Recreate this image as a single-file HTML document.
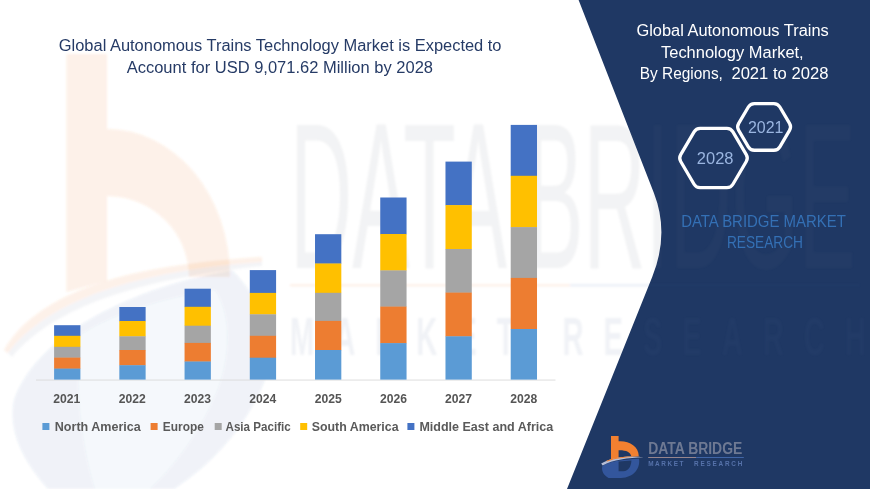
<!DOCTYPE html>
<html><head><meta charset="utf-8">
<style>
html,body{margin:0;padding:0;background:#fff;}
body{width:870px;height:489px;overflow:hidden;font-family:"Liberation Sans",sans-serif;}
svg{display:block;}
text{font-family:"Liberation Sans",sans-serif;}
</style></head><body>
<svg width="870" height="489" viewBox="0 0 870 489">
<rect width="870" height="489" fill="#ffffff"/>

<!-- watermark logo -->
<g id="wm" filter="url(#blur1)">
  <path d="M66.5,54 H107 V129 A123,148 0 0 1 230,277 L189,277 A82,81 0 0 0 107,196 V281 L66.5,292 Z" fill="#ed7d31" opacity="0.11"/>
  <path d="M4,350 C40,290 130,265 262,257 L262,262 C140,271 50,298 8,353 Z" fill="#ed7d31" opacity="0.11"/>
  <path d="M8,353 C50,298 140,271 262,262 L262,266 C140,279 55,306 12,357 Z" fill="#8793ad" opacity="0.10"/>
  <path d="M14,400 C35,340 120,290 232,270 C262,300 275,340 265,380 C245,430 210,465 174,489 L48,489 C22,460 8,430 14,400 Z" fill="#3b61a6" opacity="0.04"/>
  <path d="M14,400 C35,340 120,290 232,270 C262,300 275,340 265,380 C245,430 210,465 174,489 L48,489 C22,460 8,430 14,400 Z M80,335 C120,310 170,297 215,290 C235,320 228,370 213,400 C195,440 170,470 150,489 L95,489 C80,440 75,380 80,335 Z" fill="#3b61a6" fill-rule="evenodd" opacity="0.045"/>
</g>

<!-- navy panel -->
<path id="panel" d="M578.6,0 L653.9,193 Q669.7,233.6 652.2,277 L567,489 L870,489 L870,0 Z" fill="#1f3864"/>

<!-- watermark text (over panel too) -->
<defs>
  <filter id="blur1" filterUnits="userSpaceOnUse" x="-20" y="-20" width="910" height="529"><feGaussianBlur stdDeviation="1.2"/></filter>
  <clipPath id="cpPanel"><path d="M578.6,0 L653.9,193 Q669.7,233.6 652.2,277 L567,489 L870,489 L870,0 Z"/></clipPath>
  <clipPath id="cpWhite"><path d="M0,0 L578.6,0 L653.9,193 Q669.7,233.6 652.2,277 L567,489 L0,489 Z"/></clipPath>
  <g id="wmtext">
    <text x="290" y="268" font-size="207" fill="#7f8796" textLength="566" lengthAdjust="spacingAndGlyphs">DATA BRIDGE</text>
    <rect x="290" y="284" width="280" height="2.5" fill="#ed7d31"/>
    <rect x="570" y="284" width="290" height="2.5" fill="#4a72b8"/>
    <text transform="translate(290,355) scale(0.55,1)" x="0" y="0" font-size="53" font-weight="bold" fill="#6a7fa8" textLength="1047" lengthAdjust="spacing">MARKET RESEARCH</text>
  </g>
</defs>
<g clip-path="url(#cpWhite)" opacity="0.10"><use href="#wmtext" filter="url(#blur1)"/></g>
<g clip-path="url(#cpPanel)" opacity="0.05"><use href="#wmtext" filter="url(#blur1)"/></g>

<!-- axis -->
<rect x="36" y="379.6" width="519.5" height="0.9" fill="#d9d9d9"/>

<!-- bars -->
<g id="bars">
<rect x="54.10" y="325.2" width="26.3" height="10.9" fill="#4472c4"/>
<rect x="54.10" y="335.8" width="26.3" height="11.3" fill="#ffc000"/>
<rect x="54.10" y="346.8" width="26.3" height="11.1" fill="#a5a5a5"/>
<rect x="54.10" y="357.6" width="26.3" height="11.3" fill="#ed7d31"/>
<rect x="54.10" y="368.6" width="26.3" height="11.0" fill="#5b9bd5"/>
<rect x="119.33" y="307.0" width="26.3" height="14.3" fill="#4472c4"/>
<rect x="119.33" y="321.0" width="26.3" height="15.6" fill="#ffc000"/>
<rect x="119.33" y="336.3" width="26.3" height="14.0" fill="#a5a5a5"/>
<rect x="119.33" y="350.0" width="26.3" height="15.5" fill="#ed7d31"/>
<rect x="119.33" y="365.2" width="26.3" height="14.4" fill="#5b9bd5"/>
<rect x="184.56" y="288.7" width="26.3" height="18.4" fill="#4472c4"/>
<rect x="184.56" y="306.8" width="26.3" height="19.2" fill="#ffc000"/>
<rect x="184.56" y="325.7" width="26.3" height="17.5" fill="#a5a5a5"/>
<rect x="184.56" y="342.9" width="26.3" height="18.9" fill="#ed7d31"/>
<rect x="184.56" y="361.5" width="26.3" height="18.1" fill="#5b9bd5"/>
<rect x="249.79" y="270.1" width="26.3" height="23.1" fill="#4472c4"/>
<rect x="249.79" y="292.9" width="26.3" height="21.7" fill="#ffc000"/>
<rect x="249.79" y="314.3" width="26.3" height="21.8" fill="#a5a5a5"/>
<rect x="249.79" y="335.8" width="26.3" height="22.2" fill="#ed7d31"/>
<rect x="249.79" y="357.7" width="26.3" height="21.9" fill="#5b9bd5"/>
<rect x="315.02" y="234.2" width="26.3" height="29.6" fill="#4472c4"/>
<rect x="315.02" y="263.5" width="26.3" height="29.6" fill="#ffc000"/>
<rect x="315.02" y="292.8" width="26.3" height="28.4" fill="#a5a5a5"/>
<rect x="315.02" y="320.9" width="26.3" height="29.4" fill="#ed7d31"/>
<rect x="315.02" y="350.0" width="26.3" height="29.6" fill="#5b9bd5"/>
<rect x="380.25" y="197.5" width="26.3" height="36.8" fill="#4472c4"/>
<rect x="380.25" y="234.0" width="26.3" height="36.7" fill="#ffc000"/>
<rect x="380.25" y="270.4" width="26.3" height="36.5" fill="#a5a5a5"/>
<rect x="380.25" y="306.6" width="26.3" height="36.8" fill="#ed7d31"/>
<rect x="380.25" y="343.1" width="26.3" height="36.5" fill="#5b9bd5"/>
<rect x="445.48" y="161.6" width="26.3" height="43.8" fill="#4472c4"/>
<rect x="445.48" y="205.1" width="26.3" height="44.2" fill="#ffc000"/>
<rect x="445.48" y="249.0" width="26.3" height="43.9" fill="#a5a5a5"/>
<rect x="445.48" y="292.6" width="26.3" height="44.0" fill="#ed7d31"/>
<rect x="445.48" y="336.3" width="26.3" height="43.3" fill="#5b9bd5"/>
<rect x="510.71" y="124.9" width="26.3" height="51.2" fill="#4472c4"/>
<rect x="510.71" y="175.8" width="26.3" height="51.6" fill="#ffc000"/>
<rect x="510.71" y="227.1" width="26.3" height="51.1" fill="#a5a5a5"/>
<rect x="510.71" y="277.9" width="26.3" height="51.4" fill="#ed7d31"/>
<rect x="510.71" y="329.0" width="26.3" height="50.6" fill="#5b9bd5"/>
</g>

<!-- year labels -->
<g font-size="12.1" font-weight="bold" fill="#555555" text-anchor="middle">
  <text x="66.8" y="403" textLength="27" lengthAdjust="spacingAndGlyphs">2021</text>
  <text x="132.3" y="403" textLength="27" lengthAdjust="spacingAndGlyphs">2022</text>
  <text x="197.6" y="403" textLength="27" lengthAdjust="spacingAndGlyphs">2023</text>
  <text x="262.8" y="403" textLength="27" lengthAdjust="spacingAndGlyphs">2024</text>
  <text x="328.2" y="403" textLength="27" lengthAdjust="spacingAndGlyphs">2025</text>
  <text x="393.4" y="403" textLength="27" lengthAdjust="spacingAndGlyphs">2026</text>
  <text x="458.6" y="403" textLength="27" lengthAdjust="spacingAndGlyphs">2027</text>
  <text x="523.7" y="403" textLength="27" lengthAdjust="spacingAndGlyphs">2028</text>
</g>

<!-- legend -->
<g font-size="12.5" font-weight="bold" fill="#5a5a5a">
  <rect x="42.4" y="423" width="7" height="7" fill="#5b9bd5"/>
  <text x="54.8" y="430.6" textLength="86" lengthAdjust="spacingAndGlyphs">North America</text>
  <rect x="150.6" y="423" width="7" height="7" fill="#ed7d31"/>
  <text x="162.8" y="430.6" textLength="41" lengthAdjust="spacingAndGlyphs">Europe</text>
  <rect x="214.7" y="423" width="7" height="7" fill="#a5a5a5"/>
  <text x="225.5" y="430.6" textLength="65.2" lengthAdjust="spacingAndGlyphs">Asia Pacific</text>
  <rect x="300.2" y="423" width="7" height="7" fill="#ffc000"/>
  <text x="311.7" y="430.6" textLength="86.9" lengthAdjust="spacingAndGlyphs">South America</text>
  <rect x="407.4" y="423" width="7" height="7" fill="#4472c4"/>
  <text x="419.4" y="430.6" textLength="133.8" lengthAdjust="spacingAndGlyphs">Middle East and Africa</text>
</g>

<!-- main title -->
<g font-size="16" fill="#263b66">
  <text x="58.8" y="51.2" textLength="442.7" lengthAdjust="spacingAndGlyphs">Global Autonomous Trains Technology Market is Expected to</text>
  <text x="126.7" y="73.3" textLength="306.3" lengthAdjust="spacingAndGlyphs">Account for USD 9,071.62 Million by 2028</text>
</g>

<!-- panel title -->
<g font-size="15.6" fill="#ffffff">
  <text x="636.4" y="35.6" textLength="192.4" lengthAdjust="spacingAndGlyphs">Global Autonomous Trains</text>
  <text x="661" y="57.6" textLength="142.7" lengthAdjust="spacingAndGlyphs">Technology Market,</text>
  <text x="639.7" y="79.3" textLength="83.2" lengthAdjust="spacingAndGlyphs">By Regions,</text>
  <text x="731.4" y="79.3" textLength="97" lengthAdjust="spacingAndGlyphs">2021 to 2028</text>
</g>

<!-- hexagons -->
<g fill="#1f3864" stroke="#ffffff" stroke-width="3.3" stroke-linejoin="round">
  <path d="M746.28,154.60 Q748.30,158.05 746.28,161.50 L732.92,184.25 Q730.90,187.70 726.90,187.70 L700.10,187.70 Q696.10,187.70 694.08,184.25 L680.72,161.50 Q678.70,158.05 680.72,154.60 L694.08,131.85 Q696.10,128.40 700.10,128.40 L726.90,128.40 Q730.90,128.40 732.92,131.85 Z"/>
  <path d="M789.52,123.45 Q791.55,126.90 789.52,130.35 L779.85,146.80 Q777.83,150.25 773.83,150.25 L754.38,150.25 Q750.38,150.25 748.35,146.80 L738.68,130.35 Q736.65,126.90 738.68,123.45 L748.35,107.00 Q750.38,103.55 754.38,103.55 L773.83,103.55 Q777.83,103.55 779.85,107.00 Z"/>
</g>
<g font-size="16.4" fill="#9ab5e0">
  <text x="696.8" y="163.9" textLength="36.7" lengthAdjust="spacingAndGlyphs">2028</text>
  <text x="747.9" y="132.5" textLength="35.5" lengthAdjust="spacingAndGlyphs">2021</text>
</g>

<!-- DBMR blue text -->
<g font-size="15.7" fill="#3470b5">
  <text x="681.2" y="227" textLength="164.7" lengthAdjust="spacingAndGlyphs">DATA BRIDGE MARKET</text>
  <text x="726.9" y="247.8" textLength="76" lengthAdjust="spacingAndGlyphs">RESEARCH</text>
</g>

<!-- bottom logo -->
<g id="logo">
  <path d="M611,435.9 H618.6 V441.3 C629,440.6 638.6,446 638.8,456.2 L631.4,456.6 C630.6,452 626,450 618.6,450.2 V458.2 L611,459.4 Z" fill="#f28030"/>
  <path d="M602.3,466.2 C608,461.8 622,459.6 639,458.8 C640.6,468 634,477.6 621,478 L608.5,478 C603.5,475 601.2,470.5 602.3,466.2 Z M618.6,461.4 V471.3 H623.5 C628.5,471 631.2,466.5 631.4,460.6 Z" fill="#33569c" fill-rule="evenodd"/>
  <path d="M601.2,463.6 C611,457.2 628,455.2 643.8,457.2 C628,457.6 613,459.8 602.6,465.4 Z" fill="#b5bdd6"/>
  <path d="M606,460.9 C615,457 629,455.3 643.8,457.2 C629,456.4 616,458 607.4,461.4 Z" fill="#f28030"/>
  <text x="648.2" y="454.4" font-size="16" font-weight="bold" fill="#6e7993" textLength="94.1" lengthAdjust="spacingAndGlyphs">DATA BRIDGE</text>
  <rect x="648.2" y="457.1" width="48" height="0.8" fill="#b59a98"/>
  <rect x="696.2" y="457.1" width="47.6" height="0.8" fill="#4a72b8"/>
  <text x="648.2" y="465.9" font-size="6.4" font-weight="bold" fill="#5672aa" textLength="35.3" lengthAdjust="spacing">MARKET</text>
  <text x="694" y="465.9" font-size="6.4" font-weight="bold" fill="#5672aa" textLength="48.3" lengthAdjust="spacing">RESEARCH</text>
</g>
</svg>
</body></html>
